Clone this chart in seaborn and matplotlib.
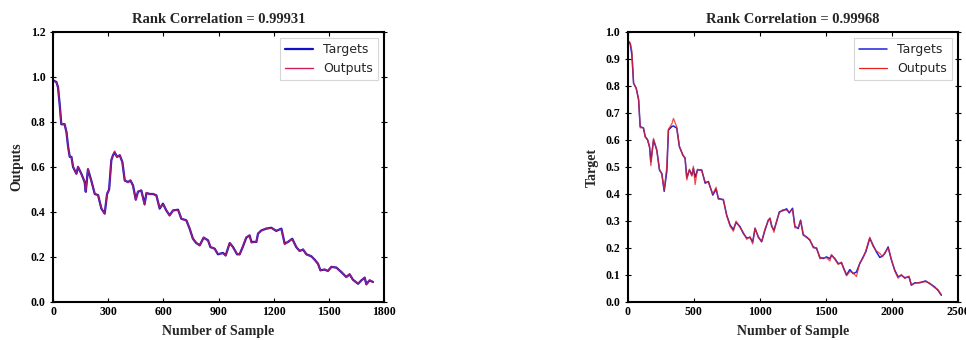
import matplotlib
matplotlib.use("Agg")
import matplotlib.pyplot as plt
import seaborn as sns
import pandas as pd

# ---------------- Left panel data ----------------
left_x = [0, 18, 27, 36, 45, 63, 73, 82, 91, 100, 109, 127, 136, 154, 172, 178, 190, 208, 227, 245,
          263, 281, 294, 305, 317, 326, 335, 348, 363, 377, 390, 408, 421, 435, 450, 462, 480, 498, 508, 526,
          544, 562, 580, 598, 616, 634, 653, 680, 698, 725, 743, 761, 779, 798, 819, 843, 856, 879, 897, 924,
          939, 961, 979, 1001, 1015, 1033, 1051, 1069, 1079, 1106, 1115, 1133, 1160, 1187, 1214, 1242, 1260, 1278, 1301, 1323,
          1341, 1360, 1378, 1405, 1423, 1441, 1454, 1477, 1495, 1514, 1541, 1568, 1595, 1613, 1631, 1659, 1677, 1695, 1704, 1722, 1740]
left_targets = [0.985, 0.978, 0.955, 0.88, 0.79, 0.79, 0.755, 0.69, 0.645, 0.645, 0.60, 0.57, 0.60, 0.57, 0.533, 0.49, 0.59, 0.54, 0.48, 0.475,
                0.415, 0.393, 0.48, 0.50, 0.63, 0.652, 0.665, 0.645, 0.652, 0.622, 0.54, 0.533, 0.54, 0.518, 0.455, 0.49, 0.496, 0.435, 0.484, 0.48,
                0.48, 0.474, 0.415, 0.437, 0.407, 0.385, 0.407, 0.41, 0.37, 0.363, 0.326, 0.281, 0.262, 0.252, 0.286, 0.274, 0.244, 0.237, 0.212, 0.218,
                0.207, 0.262, 0.244, 0.212, 0.212, 0.247, 0.286, 0.296, 0.267, 0.267, 0.304, 0.318, 0.326, 0.33, 0.316, 0.326, 0.259, 0.267, 0.281, 0.244,
                0.227, 0.233, 0.212, 0.203, 0.188, 0.170, 0.141, 0.144, 0.138, 0.156, 0.153, 0.133, 0.111, 0.123, 0.099, 0.081, 0.096, 0.108, 0.079, 0.096, 0.089]
left_outputs = [0.985, 0.976, 0.957, 0.878, 0.792, 0.788, 0.757, 0.688, 0.647, 0.643, 0.602, 0.568, 0.603, 0.567, 0.535, 0.488, 0.593, 0.538, 0.482, 0.473,
                0.417, 0.391, 0.483, 0.497, 0.633, 0.650, 0.671, 0.643, 0.655, 0.620, 0.542, 0.530, 0.543, 0.515, 0.452, 0.492, 0.494, 0.430, 0.487, 0.478,
                0.482, 0.472, 0.417, 0.435, 0.409, 0.383, 0.409, 0.408, 0.372, 0.361, 0.328, 0.279, 0.264, 0.250, 0.288, 0.272, 0.246, 0.235, 0.214, 0.216,
                0.205, 0.264, 0.242, 0.214, 0.210, 0.249, 0.289, 0.294, 0.262, 0.269, 0.306, 0.316, 0.328, 0.328, 0.318, 0.324, 0.255, 0.269, 0.279, 0.246,
                0.225, 0.235, 0.210, 0.205, 0.186, 0.172, 0.139, 0.146, 0.136, 0.158, 0.151, 0.135, 0.109, 0.125, 0.097, 0.083, 0.094, 0.110, 0.076, 0.098, 0.087]

# ---------------- Right panel data ----------------
right_x = [0, 18, 30, 43, 63, 81, 93, 118, 131, 149, 164, 174, 194, 219, 239, 257, 275, 295, 307, 333,
           345, 370, 390, 416, 433, 446, 466, 484, 496, 509, 527, 559, 585, 610, 643, 668, 685, 723, 748, 774,
           799, 819, 849, 874, 900, 925, 945, 963, 988, 1013, 1038, 1063, 1076, 1089, 1106, 1126, 1147, 1172, 1202, 1222,
           1247, 1265, 1290, 1308, 1328, 1353, 1378, 1404, 1429, 1454, 1479, 1504, 1530, 1542, 1567, 1593, 1618, 1630, 1656, 1681,
           1706, 1731, 1756, 1782, 1802, 1832, 1857, 1882, 1908, 1928, 1945, 1971, 1996, 2021, 2046, 2071, 2097, 2129, 2147, 2172,
           2210, 2255, 2286, 2323, 2349, 2374]
right_targets = [0.969, 0.955, 0.916, 0.81, 0.792, 0.749, 0.65, 0.644, 0.613, 0.60, 0.575, 0.52, 0.60, 0.563, 0.489, 0.476, 0.41, 0.485, 0.637, 0.65,
                 0.652, 0.644, 0.575, 0.545, 0.532, 0.46, 0.489, 0.47, 0.495, 0.462, 0.489, 0.489, 0.44, 0.446, 0.396, 0.418, 0.384, 0.378, 0.322, 0.285,
                 0.268, 0.295, 0.279, 0.254, 0.237, 0.239, 0.222, 0.272, 0.241, 0.223, 0.266, 0.303, 0.309, 0.280, 0.266, 0.297, 0.334, 0.338, 0.345, 0.330,
                 0.347, 0.280, 0.272, 0.303, 0.248, 0.241, 0.229, 0.204, 0.198, 0.165, 0.161, 0.167, 0.161, 0.173, 0.161, 0.142, 0.145, 0.13, 0.100, 0.120,
                 0.105, 0.111, 0.142, 0.167, 0.186, 0.236, 0.21, 0.186, 0.165, 0.170, 0.179, 0.204, 0.155, 0.118, 0.093, 0.099, 0.09, 0.093, 0.062, 0.071,
                 0.071, 0.078, 0.068, 0.056, 0.043, 0.025]
right_outputs = [0.969, 0.960, 0.930, 0.81, 0.790, 0.752, 0.645, 0.646, 0.610, 0.603, 0.572, 0.505, 0.606, 0.560, 0.492, 0.472, 0.415, 0.505, 0.640, 0.66,
                 0.680, 0.648, 0.578, 0.542, 0.535, 0.452, 0.492, 0.466, 0.503, 0.435, 0.492, 0.486, 0.445, 0.443, 0.400, 0.425, 0.380, 0.381, 0.320, 0.280,
                 0.262, 0.300, 0.276, 0.258, 0.232, 0.242, 0.215, 0.275, 0.238, 0.225, 0.270, 0.300, 0.312, 0.285, 0.258, 0.300, 0.330, 0.342, 0.340, 0.334,
                 0.342, 0.275, 0.276, 0.300, 0.252, 0.238, 0.232, 0.200, 0.202, 0.160, 0.164, 0.164, 0.152, 0.176, 0.158, 0.139, 0.148, 0.128, 0.097, 0.113,
                 0.108, 0.094, 0.145, 0.164, 0.190, 0.240, 0.206, 0.189, 0.180, 0.168, 0.182, 0.200, 0.158, 0.115, 0.088, 0.102, 0.087, 0.096, 0.064, 0.069,
                 0.073, 0.075, 0.070, 0.053, 0.046, 0.027]

left_title = "Rank Correlation = 0.99931"
right_title = "Rank Correlation = 0.99968"
left_ylabel = "Outputs"
right_ylabel = "Target"
xlabel = "Number of Sample"
left_xticks = [0, 300, 600, 900, 1200, 1500, 1800]
left_yticks = [0.0, 0.2, 0.4, 0.6, 0.8, 1.0, 1.2]
right_xticks = [0, 500, 1000, 1500, 2000, 2500]
right_yticks = [0.0, 0.1, 0.2, 0.3, 0.4, 0.5, 0.6, 0.7, 0.8, 0.9, 1.0]

sns.set_style("white")
plt.rcParams['font.family'] = ['DejaVu Sans']

fig = plt.figure(figsize=(9.66, 3.4), dpi=100)
axL = fig.add_axes([0.0549, 0.1118, 0.3426, 0.7941])
axR = fig.add_axes([0.650, 0.1118, 0.3417, 0.7941])

serif = ['Liberation Serif', 'DejaVu Serif']


def draw(ax, xs, tg, op, title, ylabel, xticks, yticks, xlim, ylim, tcol, ocol, tlw, olw, oalpha):
    dft = pd.DataFrame({"x": xs, "y": tg})
    dfo = pd.DataFrame({"x": xs, "y": op})
    sns.lineplot(data=dft, x="x", y="y", ax=ax, color=tcol, lw=tlw, label="Targets", estimator=None)
    sns.lineplot(data=dfo, x="x", y="y", ax=ax, color=ocol, lw=olw, alpha=oalpha, label="Outputs", estimator=None)
    ax.set_xlim(*xlim)
    ax.set_ylim(*ylim)
    ax.set_xticks(xticks)
    ax.set_yticks(yticks)
    ax.set_xticklabels([str(t) for t in xticks], family=serif, fontweight='bold', fontsize=8.5)
    ax.set_yticklabels([f"{t:.1f}" for t in yticks], family=serif, fontweight='bold', fontsize=8.5)
    ax.set_title(title, family=serif, fontweight='bold', fontsize=10.5, pad=6.5)
    ax.set_xlabel(xlabel, family=serif, fontweight='bold', fontsize=10, labelpad=5)
    ax.set_ylabel(ylabel, family=serif, fontweight='bold', fontsize=10, labelpad=5)
    for s in ax.spines.values():
        s.set_visible(True)
        s.set_color('black')
        s.set_linewidth(1.5)
    ax.tick_params(axis='both', which='both', direction='in', length=3, width=0.8,
                   top=True, right=True, left=True, bottom=True, pad=3, colors='black')
    ax.tick_params(axis='y', which='both', right=True, direction='inout', length=5)
    leg = ax.legend(loc='upper right', fontsize=9, frameon=True, fancybox=False,
                    handlelength=2.2, borderaxespad=0.5)
    leg.get_frame().set_edgecolor('#cccccc')
    leg.get_frame().set_linewidth(0.8)
    for h in leg.get_lines():
        h.set_alpha(1.0)


draw(axL, left_x, left_targets, left_outputs, left_title, left_ylabel, left_xticks, left_yticks,
     (0, 1800), (0, 1.2), '#1010c8', '#d0205a', 1.6, 1.0, 0.75)
draw(axR, right_x, right_targets, right_outputs, right_title, right_ylabel, right_xticks, right_yticks,
     (0, 2500), (0, 1.0), '#2020d8', '#e82020', 1.1, 0.9, 0.8)

fig.savefig("out.png", dpi=100)
